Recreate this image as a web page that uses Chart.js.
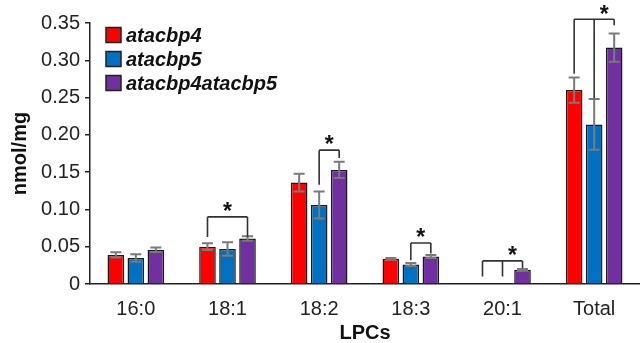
<!DOCTYPE html>
<html>
<head>
<meta charset="utf-8">
<script src="https://cdn.jsdelivr.net/npm/chart.js@4/dist/chart.umd.min.js"></script>
<style>
html,body{margin:0;padding:0;background:#fff;overflow:hidden;}
canvas{display:block;}
</style>
</head>
<body>
<canvas id="c" width="640" height="343"></canvas>
<script>
const categories = ["16:0", "18:1", "18:2", "18:3", "20:1", "Total"];
const seriesNames = ["atacbp4", "atacbp5", "atacbp4atacbp5"];
const atacbp4 = [0.039, 0.050, 0.136, 0.034, 0, 0.260];
const atacbp5 = [0.035, 0.047, 0.106, 0.026, 0, 0.214];
const atacbp4atacbp5 = [0.046, 0.061, 0.153, 0.037, 0.019, 0.317];
const err4 = [0.0035, 0.0045, 0.012, 0.001, 0, 0.017];
const err5 = [0.005, 0.009, 0.018, 0.002, 0, 0.034];
const err45 = [0.003, 0.003, 0.011, 0.002, 0.001, 0.019];
const yTicks = [0, 0.05, 0.10, 0.15, 0.20, 0.25, 0.30, 0.35];
// significance brackets: category index, legs [series index, leg bottom value], bracket top value
const brackets = [
  {cat: 1, legs: [[0, 0.063], [2, 0.063]], top: 0.090},
  {cat: 2, legs: [[1, 0.133], [2, 0.169]], top: 0.1795},
  {cat: 3, legs: [[1, 0.032], [2, 0.041]], top: 0.055},
  {cat: 4, legs: [[0, 0.010], [1, 0.010], [2, 0.021]], top: 0.031},
  {cat: 5, legs: [[0, 0.282], [1, 0.249], [2, 0.347]], top: 0.355}
];
const colors = ["#FF0000", "#0070C0", "#7030A0"];
const errs = [err4, err5, err45];
const FONT = '"Liberation Sans", Arial, sans-serif';

const extras = {
  id: 'extras',
  afterDatasetsDraw(chart) {
    const ctx = chart.ctx;
    const y = chart.scales.y;
    ctx.save();
    // error bars
    ctx.strokeStyle = '#7a7a7a';
    ctx.lineWidth = 2;
    chart.data.datasets.forEach((ds, i) => {
      const meta = chart.getDatasetMeta(i);
      meta.data.forEach((bar, j) => {
        const e = errs[i][j];
        const v = ds.data[j];
        if (!e) return;
        const x = bar.x;
        const yt = y.getPixelForValue(v + e);
        const yb = y.getPixelForValue(v - e);
        ctx.beginPath();
        ctx.moveTo(x, yt); ctx.lineTo(x, yb);
        ctx.moveTo(x - 5.5, yt); ctx.lineTo(x + 5.5, yt);
        ctx.moveTo(x - 5.5, yb); ctx.lineTo(x + 5.5, yb);
        ctx.stroke();
      });
    });
    // brackets
    ctx.strokeStyle = '#333';
    ctx.lineWidth = 1.6;
    ctx.fillStyle = '#111';
    ctx.font = 'bold 23px ' + FONT;
    ctx.textAlign = 'center';
    ctx.textBaseline = 'middle';
    brackets.forEach(b => {
      const yTop = y.getPixelForValue(b.top);
      const xs = b.legs.map(l => chart.getDatasetMeta(l[0]).data[b.cat].x);
      ctx.beginPath();
      ctx.moveTo(xs[0], yTop); ctx.lineTo(xs[xs.length - 1], yTop);
      b.legs.forEach((l, k) => {
        ctx.moveTo(xs[k], yTop);
        ctx.lineTo(xs[k], y.getPixelForValue(l[1]));
      });
      ctx.stroke();
      const sx = (xs[xs.length - 1] + xs[xs.length - 2]) / 2;
      ctx.fillText('*', sx, yTop - 4);
    });
    // legend
    ctx.textAlign = 'left';
    ctx.textBaseline = 'middle';
    ctx.font = 'italic bold 20px ' + FONT;
    chart.data.datasets.forEach((ds, i) => {
      const cy = 35 + i * 24;
      ctx.fillStyle = ds.backgroundColor;
      ctx.fillRect(106, cy - 7.5, 15, 15);
      ctx.strokeStyle = '#222';
      ctx.lineWidth = 1.5;
      ctx.strokeRect(106, cy - 7.5, 15, 15);
      ctx.fillStyle = '#111';
      ctx.fillText(ds.label, 126, cy + 1);
    });
    ctx.restore();
  }
};

new Chart(document.getElementById('c'), {
  type: 'bar',
  data: {
    labels: categories,
    datasets: [atacbp4, atacbp5, atacbp4atacbp5].map((d, i) => ({
      label: seriesNames[i],
      data: d,
      backgroundColor: colors[i],
      borderColor: '#1a1a1a',
      borderWidth: 1.5,
      categoryPercentage: 0.655,
      barPercentage: 0.83
    }))
  },
  options: {
    responsive: false,
    devicePixelRatio: 1,
    animation: false,
    layout: {padding: {top: 23, left: 0, right: 0, bottom: 0}},
    plugins: {legend: {display: false}, tooltip: {enabled: false}},
    scales: {
      x: {
        grid: {display: false},
        border: {display: true, color: '#222', width: 1.5},
        ticks: {color: '#222', padding: 5, font: {family: FONT, size: 20}},
        title: {display: true, text: 'LPCs', color: '#111', padding: {top: 0, bottom: 0},
                font: {family: FONT, size: 20, weight: 'bold', lineHeight: 1}},
        afterFit(s) { s.height = 59; }
      },
      y: {
        min: 0, max: 0.35,
        afterBuildTicks(s) { s.ticks = yTicks.map(v => ({value: v})); },
        grid: {display: true, drawOnChartArea: false, drawTicks: true, tickLength: 5, color: '#222', lineWidth: 1.5},
        border: {display: true, color: '#222', width: 1.5},
        ticks: {color: '#222', padding: 5, font: {family: FONT, size: 20},
                callback: v => v === 0 ? '0' : v.toFixed(2)},
        title: {display: true, text: 'nmol/mg', color: '#111', padding: {top: 10, bottom: 0},
                font: {family: FONT, size: 20, weight: 'bold', lineHeight: 1}},
        afterFit(s) { s.width = 90; }
      }
    }
  },
  plugins: [extras]
});
</script>
</body>
</html>
